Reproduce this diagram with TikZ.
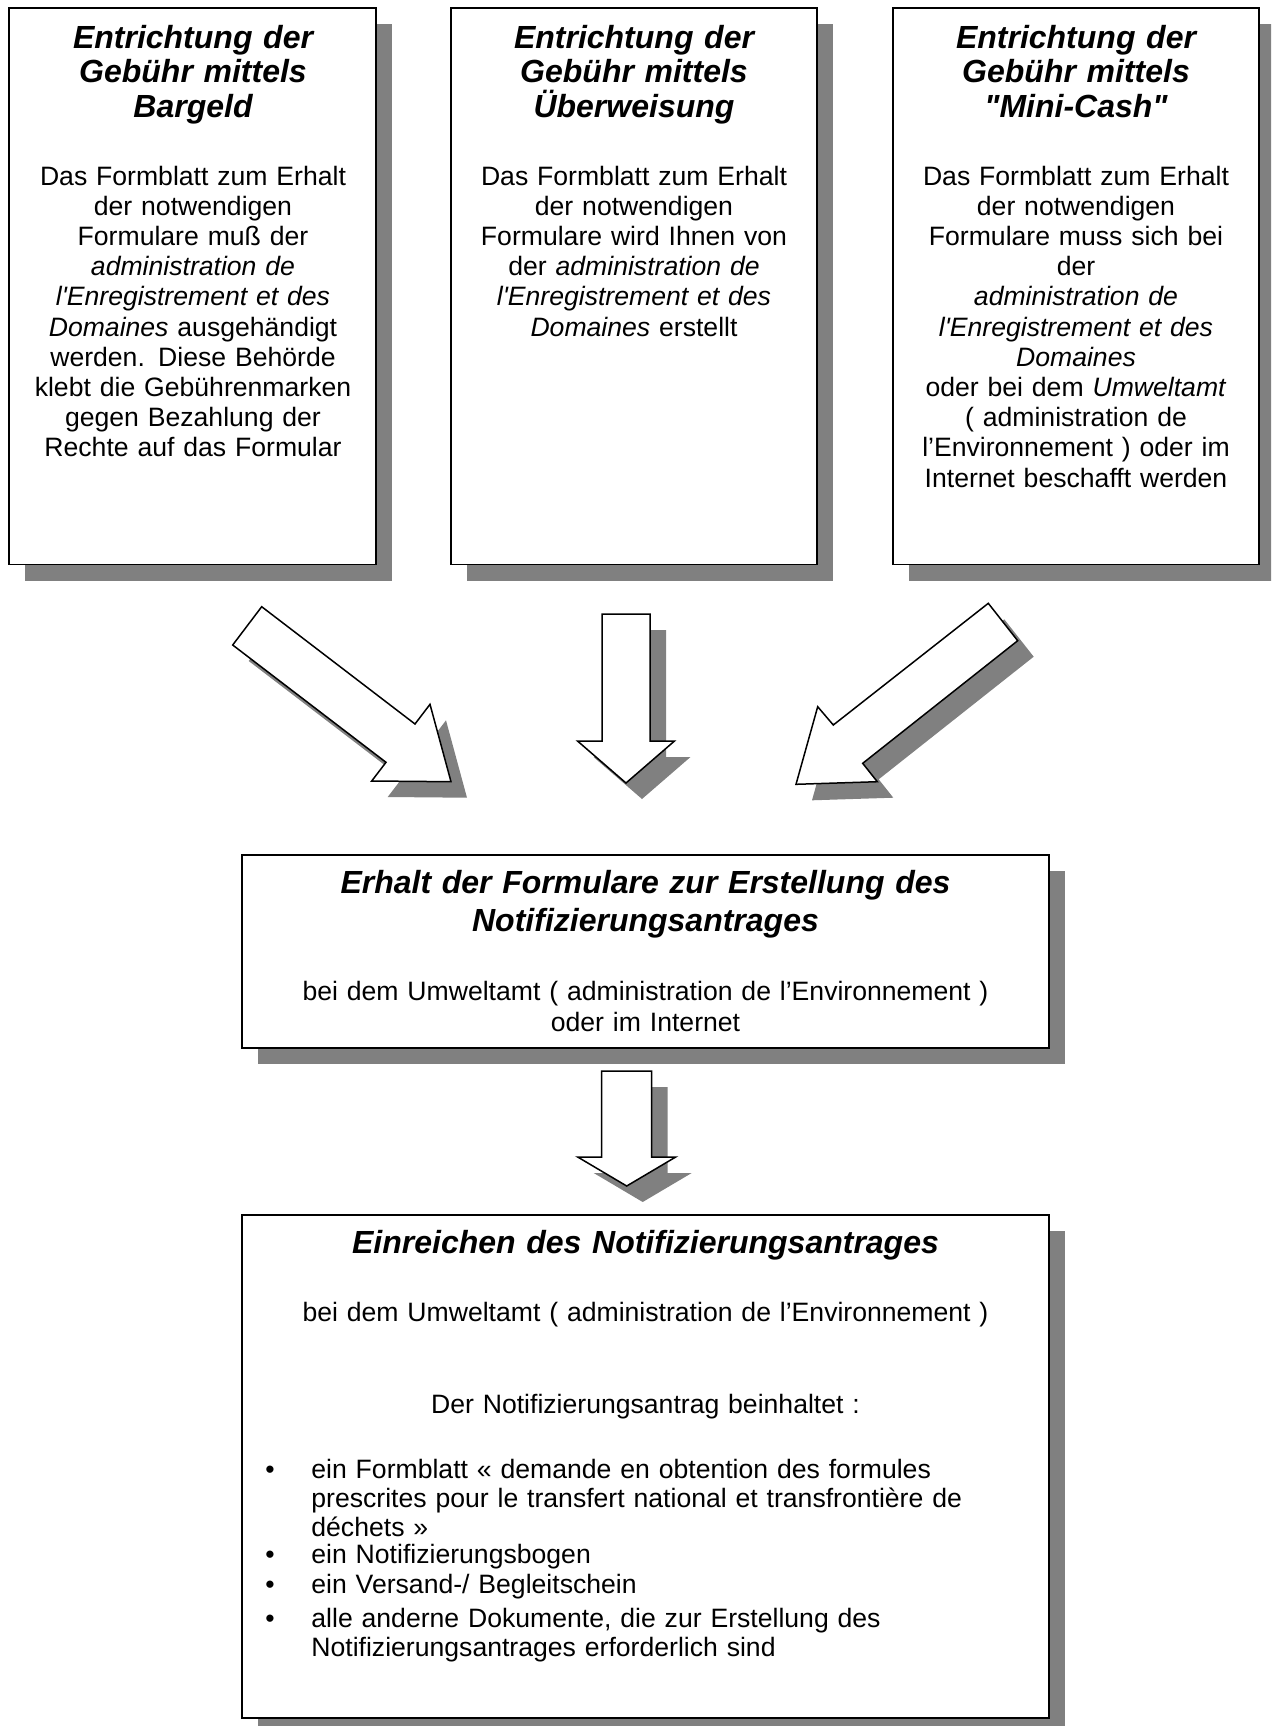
\documentclass[tikz,border=0pt]{standalone}
\usepackage{fontspec}
\newfontfamily\arial{Liberation Sans}
\usetikzlibrary{shadows}
\definecolor{shadowgray}{HTML}{808080}
\begin{document}
\begin{tikzpicture}[x=0.5pt,y=-0.5pt,
  grayshadow/.style={drop shadow={shadow xshift=8pt, shadow yshift=-8pt, fill=shadowgray, opacity=1}},
  boxnode/.style={draw=black, line width=0.9pt, fill=white, inner sep=0pt, grayshadow},
  arrowshape/.style={draw=black, line width=0.75pt, fill=white, line join=miter, grayshadow},
  titletext/.style={font=\arial\fontsize{16pt}{17.3pt}\selectfont\bfseries\itshape, align=center, text width=180pt, inner sep=0pt, anchor=base},
  bodytext/.style={font=\arial\fontsize{13.3pt}{15.1pt}\selectfont, align=center, text width=180pt, inner sep=0pt, anchor=base},
  midtitle/.style={font=\arial\fontsize{16pt}{18.75pt}\selectfont\bfseries\itshape, align=center, text width=400pt, inner sep=0pt, anchor=base},
  midbody/.style={font=\arial\fontsize{13.3pt}{15.75pt}\selectfont, align=center, text width=400pt, inner sep=0pt, anchor=base},
  itemtext/.style={font=\arial\fontsize{13.3pt}{14.6pt}\selectfont, align=left, text width=365pt, inner sep=0pt, anchor=base west},
  bullettext/.style={font=\arial\fontsize{13.3pt}{14.6pt}\selectfont, inner sep=0pt, anchor=base}
]
\useasboundingbox (0,0) rectangle (1271,1726);
\clip (0,0) rectangle (1271,1726);

% top boxes
\node[boxnode, minimum width=183.2pt, minimum height=278.25pt] (b1) at (192.5,286.25) {};
\node[boxnode, minimum width=183.2pt, minimum height=278.25pt] (b2) at (634,286.25) {};
\node[boxnode, minimum width=183.2pt, minimum height=278.25pt] (b3) at (1075.8,286.25) {};

\node[titletext] (t1) at (193,48) {Entrichtung der\\Gebühr mittels\\Bargeld};
\node[titletext] (t2) at (634,48) {Entrichtung der\\Gebühr mittels\\Überweisung};
\node[titletext] (t3) at (1076,48) {Entrichtung der\\Gebühr mittels\\"Mini-Cash"};

\node[bodytext] (x1) at (193,185) {Das Formblatt zum Erhalt\\der notwendigen\\Formulare muß der\\\textit{administration de}\\\textit{l'Enregistrement et des}\\\textit{Domaines} ausgehändigt\\werden. Diese Behörde\\klebt die Gebührenmarken\\gegen Bezahlung der\\Rechte auf das Formular};
\node[bodytext] (x2) at (634,185) {Das Formblatt zum Erhalt\\der notwendigen\\Formulare wird Ihnen von\\der \textit{administration de}\\\textit{l'Enregistrement et des}\\\textit{Domaines} erstellt};
\node[bodytext] (x3) at (1076,185) {Das Formblatt zum Erhalt\\der notwendigen\\Formulare muss sich bei\\der\\\textit{administration de}\\\textit{l'Enregistrement et des}\\\textit{Domaines}\\oder bei dem \textit{Umweltamt}\\( administration de\\l’Environnement ) oder im\\Internet beschafft werden};

% block arrows
\draw[arrowshape] (261.7,606.7) -- (232.7,645) -- (386,762.3) -- (371.7,781) -- (451,781.7) -- (430,704.3) -- (415,724) -- cycle;
\draw[arrowshape] (602,614) -- (602,741) -- (577.5,741) -- (626,783) -- (674.5,741) -- (650,741) -- (650,614) -- cycle;
\draw[arrowshape] (988.3,603.3) -- (1017.7,640.7) -- (862.7,763.3) -- (877.3,781.7) -- (796,784.3) -- (817.7,706.7) -- (833.3,725) -- cycle;

% middle box
\node[boxnode, minimum width=403.8pt, minimum height=96.5pt] (m) at (645.5,951.5) {};
\node[midtitle] (mt) at (645.5,893.5) {Erhalt der Formulare zur Erstellung des\\Notifizierungsantrages};
\node[midbody] (mb) at (645.5,1000) {bei dem Umweltamt ( administration de l’Environnement )\\oder im Internet};

\draw[arrowshape] (601.7,1071) -- (601.7,1157) -- (577.7,1157) -- (626.7,1186) -- (675.7,1157) -- (651.7,1157) -- (651.7,1071) -- cycle;

% bottom box
\node[boxnode, minimum width=403.65pt, minimum height=251.65pt] (e) at (645.4,1466.7) {};
\node[midtitle] (et) at (645.5,1253.5) {Einreichen des Notifizierungsantrages};
\node[midbody] (eb) at (645.5,1321.5) {bei dem Umweltamt ( administration de l’Environnement )};
\node[midbody] (ec) at (645.5,1413) {Der Notifizierungsantrag beinhaltet :};

\node[bullettext] (d1) at (270,1478) {•};
\node[bullettext] (d2) at (270,1563) {•};
\node[bullettext] (d3) at (270,1593) {•};
\node[bullettext] (d4) at (270,1627) {•};
\node[itemtext] (i1) at (311,1478) {ein Formblatt « demande en obtention des formules\\prescrites pour le transfert national et transfrontière de\\déchets »};
\node[itemtext] (i2) at (311,1563) {ein Notifizierungsbogen};
\node[itemtext] (i3) at (311,1593) {ein Versand-/ Begleitschein};
\node[itemtext] (i4) at (311,1627) {alle anderne Dokumente, die zur Erstellung des\\Notifizierungsantrages erforderlich sind};
\end{tikzpicture}
\end{document}
